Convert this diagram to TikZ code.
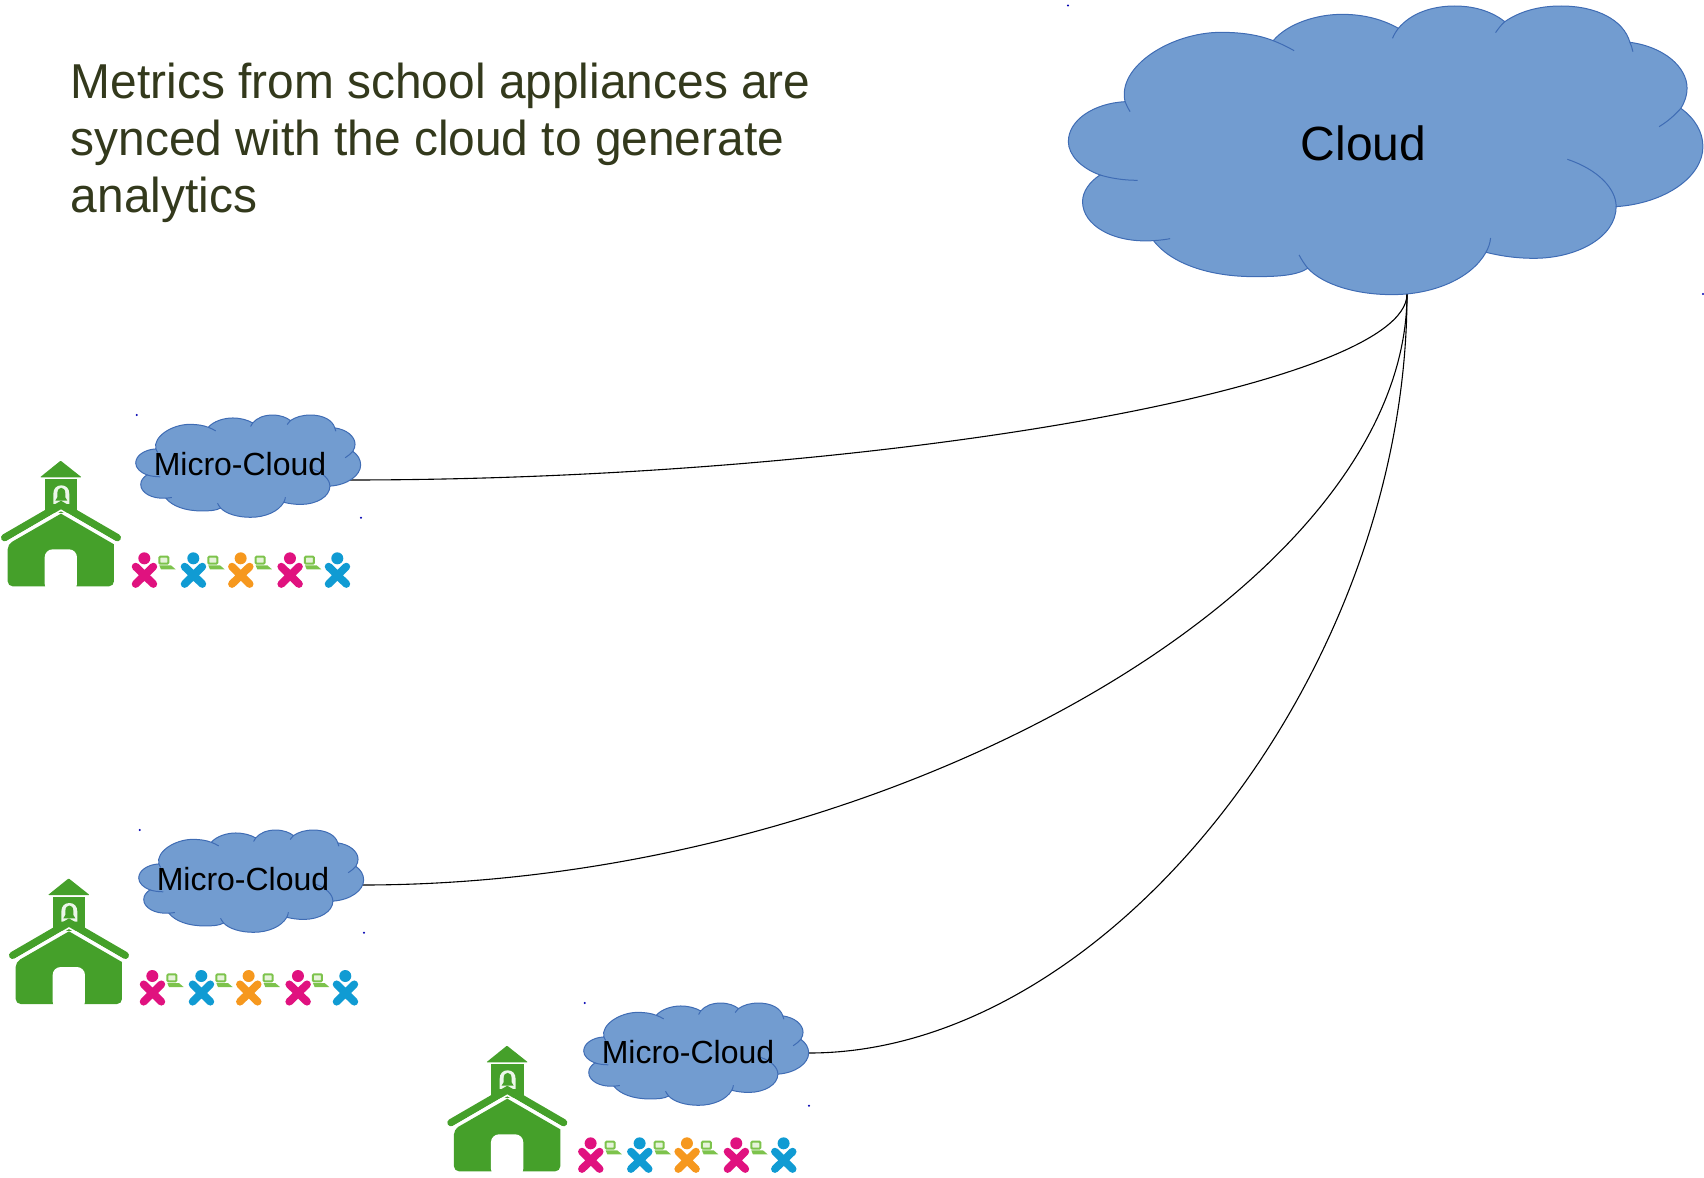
\documentclass[tikz,border=0pt]{standalone}
\usepackage{fontspec}
\setmainfont{Liberation Sans}
\newfontfamily\headfont[FakeStretch=0.977]{Liberation Sans}
\definecolor{cloudfill}{HTML}{729CD0}
\definecolor{cloudline}{HTML}{3F6CB4}
\definecolor{schoolgreen}{HTML}{45A02A}
\definecolor{lapgreen}{HTML}{7DC34C}
\definecolor{lappale}{HTML}{E6F3DA}
\definecolor{kidpink}{HTML}{E0127F}
\definecolor{kidblue}{HTML}{109BD3}
\definecolor{kidorange}{HTML}{F6981E}
\definecolor{headtext}{HTML}{33391C}
\tikzset{
  cloudedge/.style={draw=cloudline,line width=0.5pt},
  linkline/.style={draw=black,line width=0.55pt},
  cornerdot/.style={fill=blue!70!black},
  bigtext/.style={anchor=base,inner sep=0pt,font=\fontsize{24}{28}\selectfont},
  microtext/.style={anchor=base,inner sep=0pt,font=\fontsize{16}{18}\selectfont},
  headline/.style={anchor=base west,inner sep=0pt,text=headtext,font=\headfont\fontsize{24.5}{28.5}\selectfont},
  cloudshape/.pic={
    \path[fill=cloudfill,cloudedge]
      (180,305) .. controls (160,200) and (290,97) .. (410,97)
      .. controls (460,97) and (500,105) .. (535,122)
      .. controls (570,70) and (640,43) .. (700,43)
      .. controls (755,43) and (800,60) .. (835,85)
      .. controls (865,40) and (915,18) .. (970,18)
      .. controls (1025,18) and (1065,40) .. (1090,65)
      .. controls (1125,35) and (1170,18) .. (1225,18)
      .. controls (1310,18) and (1375,60) .. (1390,127)
      .. controls (1470,140) and (1527,200) .. (1527,265)
      .. controls (1527,285) and (1522,305) .. (1512,325)
      .. controls (1545,355) and (1565,395) .. (1565,440)
      .. controls (1565,530) and (1475,610) .. (1357,620)
      .. controls (1357,710) and (1265,775) .. (1160,775)
      .. controls (1118,775) and (1080,768) .. (1045,757)
      .. controls (1010,835) and (920,884) .. (820,884)
      .. controls (735,884) and (655,855) .. (618,805)
      .. controls (590,828) and (540,830) .. (490,830)
      .. controls (380,830) and (290,790) .. (248,722)
      .. controls (150,730) and (78,675) .. (78,605)
      .. controls (78,575) and (95,545) .. (120,525)
      .. controls (75,505) and (44,465) .. (44,425)
      .. controls (44,360) and (105,310) .. (180,305) -- cycle;
    \path[cloudedge]
      (180,305) .. controls (183,315) and (187,325) .. (192,335)
      (535,122) .. controls (553,131) and (570,141) .. (585,152)
      (835,85) .. controls (829,95) and (824,105) .. (821,115)
      (1090,65) .. controls (1081,75) and (1074,87) .. (1068,98)
      (1390,127) .. controls (1393,136) and (1396,146) .. (1397,155)
      (1512,325) .. controls (1498,345) and (1481,364) .. (1460,380)
      (1357,620) .. controls (1357,565) and (1312,508) .. (1240,478)
      (1045,757) .. controls (1051,743) and (1055,729) .. (1056,714)
      (618,805) .. controls (610,793) and (603,779) .. (597,765)
      (248,722) .. controls (262,721) and (275,719) .. (288,716)
      (120,525) .. controls (146,535) and (177,541) .. (210,541);
  },
  schoolicon/.pic={
    \begin{scope}[scale=0.3333]
      \fill[schoolgreen,rounded corners=0.4pt] (120,232) -- (182,182) -- (245,232) -- cycle;
      \fill[schoolgreen] (135,237) rectangle (232,340);
      \fill[white!90!schoolgreen] (160,312) -- (160,282) .. controls (160,265) and (170,256) .. (184,256)
        .. controls (198,256) and (208,265) .. (208,282) -- (208,312) -- cycle;
      \fill[schoolgreen] (166,302) -- (172,292) -- (172,280) .. controls (172,258) and (196,258) .. (196,280)
        -- (196,292) -- (202,302) -- cycle;
      \draw[schoolgreen,line width=3.67pt,line cap=round,line join=miter] (14,413) -- (183,315) -- (352,413);
      \draw[white,line width=0.8pt] (20,426) -- (183,331) -- (346,426);
      \fill[schoolgreen,rounded corners=2.5pt] (23,433) [sharp corners] -- (183,341) -- (342,433) [rounded corners=2.5pt] -- (342,559) -- (23,559) -- cycle;
      \fill[white,rounded corners=4pt] (134,575) -- (134,448) -- (231,448) -- (231,575) -- cycle;
    \end{scope}
  },
  kidrow/.pic={
    \begin{scope}[scale=0.3333]
      \foreach \hx in {433,580,722,870} {
        \fill[lapgreen] (\hx+45,496) -- (\hx+50,508) -- (\hx+94,508) -- (\hx+80,496) -- cycle;
        \draw[lapgreen,fill=lappale,line width=1pt,rounded corners=0.5pt] (\hx+45,470) rectangle (\hx+72,491);
      }
      \foreach \hx/\kc in {433/kidpink,580/kidblue,722/kidorange,870/kidpink,1012/kidblue} {
        \fill[\kc] (\hx,475) circle [radius=18];
        \draw[\kc,line width=3.9pt,line cap=round] (\hx-26,500) -- (\hx+27,552) (\hx+27,500) -- (\hx-26,552);
      }
    \end{scope}
  }
}
\begin{document}
\begin{tikzpicture}[x=0.5pt,y=-0.5pt]
\useasboundingbox (0,0) rectangle (1704,1178);

% connector end points
\coordinate (bigb) at (1407,294);
\coordinate (m1e) at (348,480);
\coordinate (m2e) at (362,885);
\coordinate (m3e) at (809,1053);

\draw[linkline] (bigb) .. controls +(0,93) and +(529,0) .. (m1e);
\draw[linkline] (bigb) .. controls +(0,295) and +(522,0) .. (m2e);
\draw[linkline] (bigb) .. controls +(0,379) and +(299,0) .. (m3e);

% main cloud
\pic[xscale=0.4172,yscale=0.3333] at (1050,0) {cloudshape};
\node[bigtext] (bigcloud) at (1363.5,160.5) {Cloud};
\fill[cornerdot] (1068,5.5) circle [radius=1.1];
\fill[cornerdot] (1703,294) circle [radius=1.1];

% heading
\node[headline] (h1) at (70.5,98) {Metrics from school appliances are};
\node[headline] (h2) at (70.5,155) {synced with the cloud to generate};
\node[headline] (h3) at (70.5,212) {analytics};

% school group 1
\pic[xscale=0.1479,yscale=0.1181] at (129.2,412.9) {cloudshape};
\node[microtext] (m1) at (240,475) {Micro-Cloud};
\fill[cornerdot] (136.7,415) circle [radius=1.1];
\fill[cornerdot] (361,517.7) circle [radius=1.1];
\pic at (0,400) {schoolicon};
\pic at (0,400) {kidrow};

% school group 2
\pic[xscale=0.1479,yscale=0.1181] at (132.2,827.9) {cloudshape};
\node[microtext] (m2) at (243,890) {Micro-Cloud};
\fill[cornerdot] (139.7,830) circle [radius=1.1];
\fill[cornerdot] (364,932.7) circle [radius=1.1];
\pic at (8,817.7) {schoolicon};
\pic at (8,817.7) {kidrow};

% school group 3
\pic[xscale=0.1479,yscale=0.1181] at (577.2,1000.9) {cloudshape};
\node[microtext] (m3) at (688,1063) {Micro-Cloud};
\fill[cornerdot] (584.7,1003) circle [radius=1.1];
\fill[cornerdot] (809,1105.7) circle [radius=1.1];
\pic at (446.3,985) {schoolicon};
\pic at (446.3,985) {kidrow};
\end{tikzpicture}
\end{document}
